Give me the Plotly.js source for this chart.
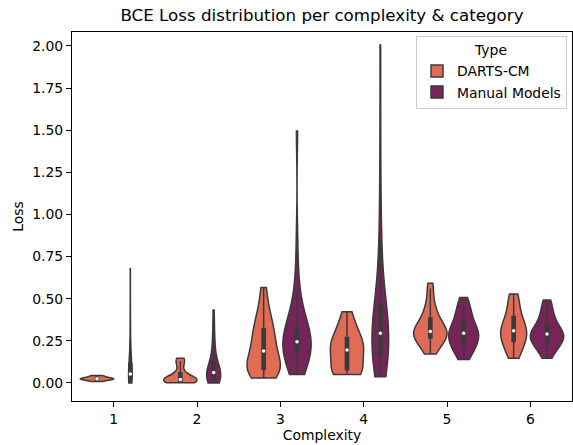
<!DOCTYPE html>
<html><head><meta charset="utf-8">
<script src="https://cdn.plot.ly/plotly-3.0.1.min.js"></script>
<style>html,body{margin:0;padding:0;background:#fff}</style>
</head><body>
<div id="chart" style="width:573px;height:445px"></div>
<script>
// ---- data (BCE loss samples) ----
const complexities = [1, 2, 3, 4, 5, 6];
const typeNames = ['DARTS-CM', 'Manual Models'];

const dartsC1 = [0.008, 0.012, 0.016, 0.019, 0.021, 0.023, 0.024, 0.025, 0.026, 0.028, 0.03, 0.033, 0.037, 0.041, 0.045];
const dartsC2 = [0.002, 0.004, 0.006, 0.008, 0.01, 0.012, 0.013, 0.015, 0.017, 0.018, 0.02, 0.022, 0.025, 0.028, 0.032, 0.04, 0.06, 0.085, 0.115, 0.13, 0.14, 0.146];
const dartsC3 = [0.03, 0.04, 0.05, 0.06, 0.065, 0.07, 0.075, 0.08, 0.09, 0.1, 0.11, 0.12, 0.13, 0.15, 0.18, 0.21, 0.2, 0.22, 0.24, 0.26, 0.28, 0.3, 0.32, 0.34, 0.36, 0.38, 0.41, 0.45, 0.52, 0.566];
const dartsC4 = [0.051, 0.053, 0.056, 0.06, 0.066, 0.09, 0.12, 0.15, 0.17, 0.19, 0.2, 0.21, 0.23, 0.25, 0.26, 0.28, 0.31, 0.34, 0.38, 0.423];
const dartsC5 = [0.172, 0.19, 0.21, 0.23, 0.25, 0.26, 0.27, 0.275, 0.28, 0.29, 0.295, 0.3, 0.305, 0.31, 0.32, 0.33, 0.34, 0.36, 0.38, 0.4, 0.42, 0.45, 0.49, 0.56, 0.592];
const dartsC6 = [0.146, 0.16, 0.18, 0.2, 0.22, 0.235, 0.25, 0.26, 0.27, 0.28, 0.29, 0.3, 0.31, 0.32, 0.33, 0.34, 0.35, 0.37, 0.39, 0.41, 0.43, 0.46, 0.5, 0.515, 0.528];

const manualC1 = [0.0, 0.004, 0.008, 0.012, 0.016, 0.02, 0.024, 0.028, 0.032, 0.036, 0.04, 0.044, 0.048, 0.053, 0.058, 0.064, 0.07, 0.078, 0.088, 0.1, 0.12, 0.15, 0.19, 0.25, 0.33, 0.45, 0.68];
const manualC2 = [0.0, 0.003, 0.006, 0.01, 0.014, 0.02, 0.026, 0.032, 0.038, 0.045, 0.052, 0.058, 0.062, 0.068, 0.075, 0.082, 0.09, 0.1, 0.12, 0.15, 0.18, 0.22, 0.27, 0.34, 0.433];
const manualC3 = [0.05, 0.07, 0.09, 0.11, 0.13, 0.15, 0.16, 0.17, 0.175, 0.18, 0.19, 0.2, 0.21, 0.22, 0.225, 0.23, 0.24, 0.245, 0.25, 0.26, 0.27, 0.28, 0.29, 0.3, 0.31, 0.32, 0.34, 0.37, 0.4, 0.44, 0.49, 0.55, 0.64, 0.85, 1.496];
const manualC4 = [0.037, 0.055, 0.075, 0.095, 0.11, 0.125, 0.14, 0.15, 0.16, 0.168, 0.178, 0.19, 0.2, 0.215, 0.23, 0.245, 0.26, 0.27, 0.28, 0.29, 0.3, 0.315, 0.33, 0.345, 0.36, 0.375, 0.39, 0.41, 0.43, 0.45, 0.47, 0.52, 0.58, 0.65, 0.74, 0.85, 0.98, 1.2, 1.55, 2.006];
const manualC5 = [0.14, 0.16, 0.18, 0.2, 0.21, 0.22, 0.23, 0.245, 0.26, 0.27, 0.28, 0.29, 0.295, 0.3, 0.31, 0.32, 0.335, 0.35, 0.37, 0.39, 0.41, 0.43, 0.45, 0.48, 0.508];
const manualC6 = [0.146, 0.17, 0.19, 0.21, 0.225, 0.235, 0.24, 0.25, 0.26, 0.27, 0.275, 0.28, 0.29, 0.295, 0.3, 0.31, 0.32, 0.335, 0.35, 0.37, 0.39, 0.41, 0.44, 0.47, 0.493];

const dartsSeries = [dartsC1, dartsC2, dartsC3, dartsC4, dartsC5, dartsC6];
const manualSeries = [manualC1, manualC2, manualC3, manualC4, manualC5, manualC6];
const yTicks = [0, 0.25, 0.5, 0.75, 1.0, 1.25, 1.5, 1.75, 2.0];

// ---- style ----
const fillColors = ['#e06b57', '#76245a'];
const edgeColor = '#3b3b3b';
const dodge = [-0.2, 0.2];
const FONT = 'DejaVu Sans, sans-serif';

// ---- helpers (seaborn-like Scott bandwidth, linear quantile) ----
function scott(v) {
  const n = v.length, m = v.reduce((a, b) => a + b, 0) / n;
  const sd = Math.sqrt(v.reduce((a, b) => a + (b - m) * (b - m), 0) / (n - 1));
  return sd * Math.pow(n, -0.2);
}
function quantile(v, q) {
  const s = v.slice().sort((a, b) => a - b);
  const p = (s.length - 1) * q, lo = Math.floor(p), hi = Math.ceil(p);
  return s[lo] + (s[hi] - s[lo]) * (p - lo);
}

const traces = [];
const medX = [[], []], medY = [[], []];
[dartsSeries, manualSeries].forEach((series, ti) => {
  series.forEach((vals, ci) => {
    const pos = complexities[ci] + dodge[ti];
    traces.push({
      type: 'violin',
      x: vals.map(() => pos),
      y: vals,
      name: typeNames[ti],
      legendgroup: typeNames[ti],
      showlegend: ci === 0,
      scalegroup: 'c' + complexities[ci],
      scalemode: 'width',
      spanmode: 'hard',
      bandwidth: scott(vals),
      fillcolor: fillColors[ti],
      line: {color: edgeColor, width: 1.5},
      points: 'outliers',
      marker: {opacity: 0, size: 1},
      box: {visible: true, width: 0.095, fillcolor: edgeColor, line: {color: edgeColor, width: 1.5}},
      meanline: {visible: false},
      hoverinfo: 'skip'
    });
    medX[ti].push(pos);
    medY[ti].push(quantile(vals, 0.5));
  });
});
[0, 1].forEach(ti => {
  traces.push({
    type: 'scatter', mode: 'markers', x: medX[ti], y: medY[ti],
    marker: {color: 'white', size: 3.5}, showlegend: false, hoverinfo: 'skip'
  });
});

const axisCommon = {
  showline: true, mirror: true, linecolor: 'black', linewidth: 1,
  ticks: 'outside', ticklen: 5, tickwidth: 1, tickcolor: 'black',
  showgrid: false, zeroline: false,
  tickfont: {family: FONT, size: 13.9, color: 'black'}
};

const layout = {
  width: 573, height: 445,
  margin: {l: 72, r: 1, t: 32, b: 44},
  paper_bgcolor: 'white', plot_bgcolor: 'white',
  font: {family: FONT, size: 13.9, color: 'black'},
  violinmode: 'overlay', violingap: 0, violingroupgap: 0,
  title: {text: 'BCE Loss distribution per complexity & category',
          font: {family: FONT, size: 16.7, color: 'black'},
          xref: 'paper', x: 0.5, xanchor: 'center', yref: 'container', y: 0.967, yanchor: 'middle'},
  xaxis: Object.assign({}, axisCommon, {
    range: [0.5, 6.5], tickvals: complexities, ticktext: complexities.map(String),
    title: {text: 'Complexity', font: {family: FONT, size: 13.9}, standoff: 3}
  }),
  yaxis: Object.assign({}, axisCommon, {
    range: [-0.107, 2.083], tickvals: yTicks, tickformat: '.2f',
    title: {text: 'Loss', font: {family: FONT, size: 13.9}, standoff: 5}
  }),
  legend: {
    x: 0.99, xanchor: 'right', y: 0.988, yanchor: 'top',
    bgcolor: 'rgba(255,255,255,0.85)', bordercolor: '#cccccc', borderwidth: 1,
    title: {text: 'Type', side: 'top center', font: {family: FONT, size: 13.9}},
    font: {family: FONT, size: 13.9, color: 'black'},
    tracegroupgap: 0
  }
};

Plotly.newPlot('chart', traces, layout, {displayModeBar: false, staticPlot: true});
</script>
</body></html>
